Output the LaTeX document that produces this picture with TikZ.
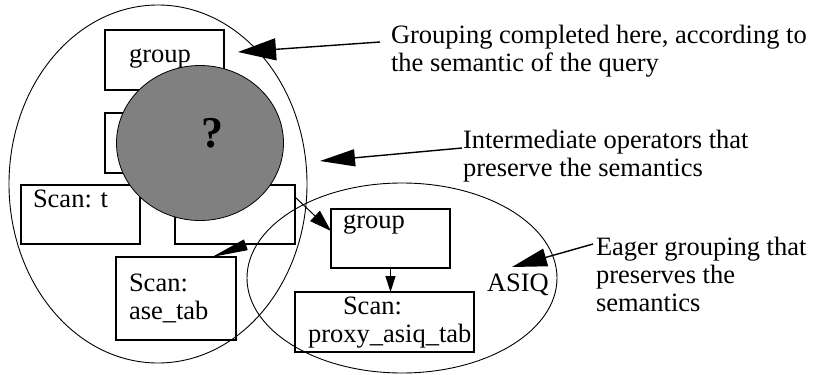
\documentclass[tikz,border=0pt]{standalone}
\usepackage{fontspec}
\setmainfont{Liberation Serif}
\usetikzlibrary{arrows.meta,calc,shapes.geometric}
\begin{document}
\begin{tikzpicture}[x=1pt,y=-1pt,
  every node/.style={inner sep=0pt,outer sep=0pt},
  txt/.style={font=\fontsize{26.5}{28}\selectfont,align=left,anchor=north west},
  opbox/.style={draw,line width=1.4pt,anchor=north west},
  region/.style={draw,ellipse,line width=0.9pt},
  conn/.style={line width=1.4pt},
  ]
  \useasboundingbox (0,0) rectangle (823,375);

  % query regions
  \node[region,minimum width=298pt,minimum height=358pt] (outer) at (158,184) {};
  \node[region,minimum width=310pt,minimum height=190pt] (asiq) at (402,278) {};

  % operator boxes
  \node[opbox,minimum width=119pt,minimum height=60pt] (g1)  at (105,30)  {};
  \node[opbox,minimum width=119pt,minimum height=60pt] (mid) at (105,113) {};
  \node[opbox,minimum width=119pt,minimum height=59pt] (st)  at (21,185)  {};
  \node[opbox,minimum width=120pt,minimum height=59pt] (rb)  at (175,185) {};
  \node[opbox,minimum width=120pt,minimum height=83pt] (ase) at (116,257) {};
  \node[opbox,minimum width=119pt,minimum height=59pt] (g2)  at (331,209) {};
  \node[opbox,minimum width=179pt,minimum height=60pt] (px)  at (295,292) {};

  % box labels
  \node[txt] (g1t)  at ($(g1.north west)+(24,19)$)  {group};
  \node[txt] (stt)  at ($(st.north west)+(12,5)$)   {Scan: t};
  \node[txt] (aset) at ($(ase.north west)+(13,17)$) {Scan:\\ase\_tab};
  \node[txt] (g2t)  at ($(g2.north west)+(12,6)$)   {group};
  \node[txt] (pxt)  at ($(px.north west)+(13,5)$)   {\hspace*{35pt}Scan:\\proxy\_asiq\_tab};
  \node[txt] (asiqt) at (487,274) {ASIQ};

  % hidden part of the plan
  \node[draw,ellipse,fill=gray,line width=0.8pt,minimum width=167pt,minimum height=155pt] (hid) at (200,143) {};
  \node[font=\bfseries\fontsize{44}{48}\selectfont] (qm) at (212,133) {?};

  % annotations
  \node[txt] (ann1) at (391,25)  {Grouping completed here, according to\\the semantic of the query};
  \node[txt] (ann2) at (463,130) {Intermediate operators that\\preserve the semantics};
  \node[txt] (ann3) at (596,237) {Eager grouping that\\preserves the\\semantics};

  \coordinate (tipA) at (238,52);
  \coordinate (tipB) at (320,161);
  \coordinate (tipC) at (512,267);

  \draw[conn,-{Triangle[length=38pt,width=22pt]}] ($(ann1.north west)+(-11,17)$) -- (tipA);
  \draw[conn,-{Triangle[length=35pt,width=17pt]}] ($(ann2.north west)+(-1,18)$) -- (tipB);
  \draw[conn,-{Triangle[length=35pt,width=18pt]}] ($(ann3.north west)+(-3,7)$) -- (tipC);

  % plan edges
  \draw[conn,line width=1pt,-{Triangle[length=22pt,width=14pt]}] ($(rb.north east)+(0,12)$) -- ($(g2.north west)+(0,22)$);
  \draw[conn,-{Triangle[length=36pt,width=11pt]}] ($(rb.south west)+(73,0)$) -- ($(ase.north west)+(96,0)$);
  \draw[conn,-{Triangle[length=16pt,width=10pt]}] (g2.south) -- (g2.south |- px.north);
\end{tikzpicture}
\end{document}
